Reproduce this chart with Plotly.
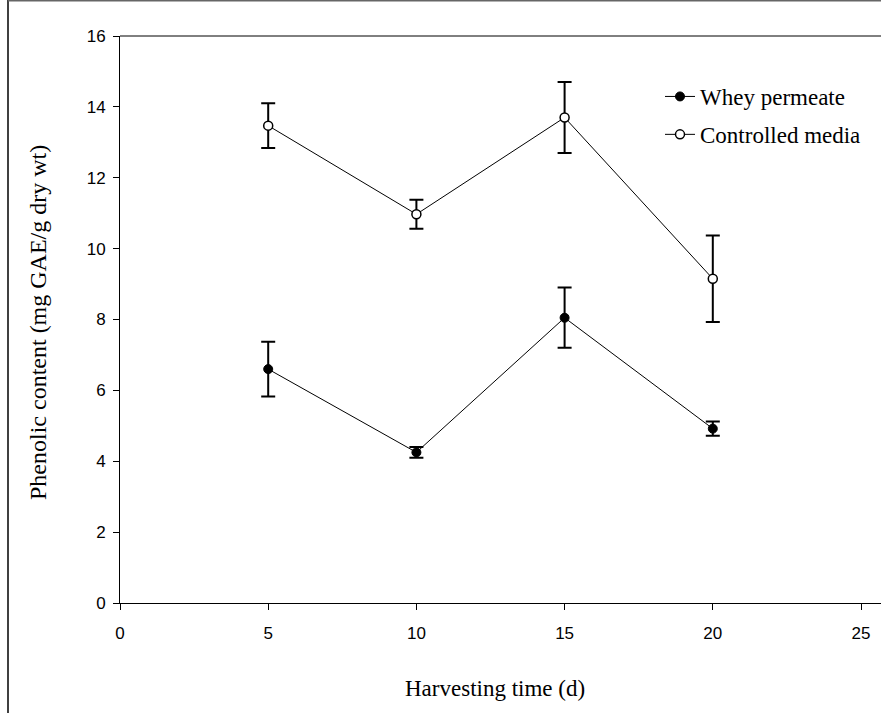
import plotly.graph_objects as go

# Data
days = [5, 10, 15, 20]
whey = [6.6, 4.25, 8.05, 4.92]
whey_err = [0.77, 0.15, 0.85, 0.2]
ctrl = [13.47, 10.97, 13.7, 9.15]
ctrl_err = [0.63, 0.41, 1.0, 1.22]
x_ticks = [0, 5, 10, 15, 20, 25]
y_ticks = [0, 2, 4, 6, 8, 10, 12, 14, 16]

W, H = 881, 713
L, R, T, B = 120, 0, 36, 110
pw, ph = W - L - R, H - T - B
x_per = (861 - 120) / 25.0
x_max = pw / x_per


def px(xp):
    return (xp - L) / pw


def py(yp):
    return (H - B - yp) / ph


fig = go.Figure()
fig.add_trace(go.Scatter(
    x=days, y=whey, mode="lines+markers", name="Whey permeate",
    line=dict(color="black", width=1),
    marker=dict(symbol="circle", size=9, color="black", line=dict(color="black", width=1)),
    error_y=dict(type="data", array=whey_err, visible=True, color="black", thickness=2, width=7),
    legendgroup="a",
))
fig.add_trace(go.Scatter(
    x=days, y=ctrl, mode="lines+markers", name="Controlled media",
    line=dict(color="black", width=1),
    marker=dict(symbol="circle", size=9, color="white", line=dict(color="black", width=1.5)),
    error_y=dict(type="data", array=ctrl_err, visible=True, color="black", thickness=2, width=7),
    legendgroup="b",
))

tickfont = dict(family="Liberation Sans, Arial, sans-serif", size=17, color="black")
serif = "Liberation Serif, Times New Roman, serif"

fig.update_layout(
    width=W, height=H,
    margin=dict(l=L, r=R, t=T, b=B, pad=0),
    paper_bgcolor="white", plot_bgcolor="white",
    showlegend=True,
    legend=dict(x=px(660), y=py(75), xanchor="left", yanchor="top",
                font=dict(family=serif, size=23, color="black"),
                bgcolor="rgba(0,0,0,0)", tracegroupgap=5),
    xaxis=dict(range=[0, x_max], tickvals=x_ticks, ticks="outside", ticklen=6,
               tickcolor="black", tickwidth=1, showline=True, linecolor="black",
               linewidth=1, showgrid=False, zeroline=False, tickfont=tickfont,
               ticklabelstandoff=9),
    yaxis=dict(range=[0, 16], tickvals=y_ticks, ticks="outside", ticklen=6,
               tickcolor="black", tickwidth=1, showline=True, linecolor="black",
               linewidth=1, showgrid=False, zeroline=False, tickfont=tickfont,
               ticklabelstandoff=4),
    annotations=[
        dict(text="Harvesting time (d)", x=px(495), y=py(688), xref="paper", yref="paper",
             showarrow=False, xanchor="center", yanchor="middle",
             font=dict(family=serif, size=23, color="black")),
        dict(text="Phenolic content (mg GAE/g dry wt)", x=px(38), y=py(323), xref="paper",
             yref="paper", showarrow=False, xanchor="center", yanchor="middle", textangle=-90,
             font=dict(family=serif, size=24, color="black")),
    ],
    shapes=[
        dict(type="line", xref="paper", yref="paper", x0=0, x1=1, y0=1, y1=1,
             line=dict(color="black", width=1)),
        dict(type="line", xref="paper", yref="paper", x0=px(8), x1=px(8), y0=py(0), y1=py(713),
             line=dict(color="black", width=1.5)),
        dict(type="line", xref="paper", yref="paper", x0=px(8), x1=1, y0=py(0.5), y1=py(0.5),
             line=dict(color="#666666", width=2)),
    ],
)

fig.write_html("out.html", config={"displayModeBar": False},
               post_script="document.body.style.margin='0px';")
